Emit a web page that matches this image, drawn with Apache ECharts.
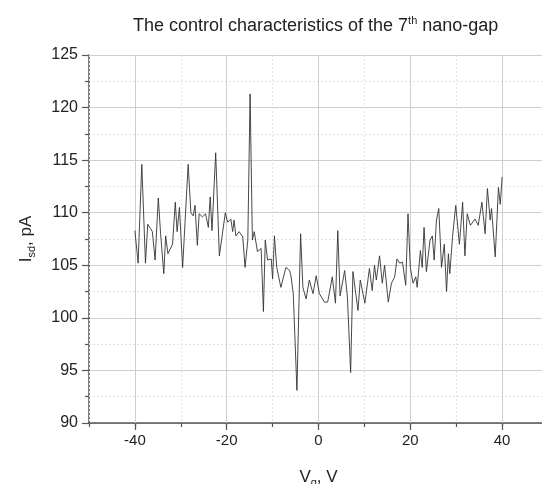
<!DOCTYPE html>
<html>
<head>
<meta charset="utf-8">
<script src="https://cdn.jsdelivr.net/npm/echarts@6/dist/echarts.min.js"></script>
<style>html,body{margin:0;padding:0;background:#fff}#c{width:542px;height:484px}</style>
</head>
<body>
<div id="c"></div>
<script>
// Gate voltage, V
const voltages = [
-40.0,-39.3,-38.5,-37.7,-37.2,-36.6,-36.2,-35.6,-34.9,-34.4,-33.7,-33.3,-32.8,-31.8,-31.2,-30.8,-30.3,-29.6,-28.4,-27.8,
-27.3,-26.9,-26.4,-26.0,-25.3,-24.6,-24.0,-23.6,-23.2,-22.4,-21.6,-20.3,-19.8,-19.1,-18.7,-18.4,-18.0,-17.3,-16.5,-16.0,
-15.4,-14.9,-14.4,-14.0,-13.3,-12.5,-12.0,-11.6,-11.1,-10.3,-10.0,-9.6,-9.1,-8.2,-7.1,-6.3,-6.0,-5.5,-4.7,-3.9,
-3.4,-2.7,-2.0,-1.2,-0.5,0.2,1.3,2.0,3.0,3.7,4.2,4.7,5.7,6.3,7.0,7.5,8.6,9.1,10.1,11.1,
11.7,12.2,12.6,13.3,13.9,14.4,15.2,15.9,16.6,17.1,17.7,18.3,19.0,19.5,20.0,20.6,21.2,21.5,22.2,22.6,
23.0,23.5,24.3,24.8,25.2,25.7,26.2,26.8,27.4,27.9,28.3,28.6,29.2,29.9,30.7,31.4,31.9,32.4,33.1,34.1,
34.8,35.6,36.3,36.8,37.4,37.7,38.5,39.2,39.6,40.0
];
// Source-drain current, pA
const currents = [
108.3,105.2,114.6,105.2,108.9,108.5,108.2,105.5,111.4,108.0,104.2,107.8,106.1,107.0,111.0,108.2,110.5,104.8,114.6,110.0,
109.7,110.7,106.9,109.9,109.6,109.9,108.6,111.5,108.3,115.7,105.9,110.0,109.1,109.4,108.2,109.3,107.8,108.2,107.7,104.8,
107.4,121.3,107.4,108.2,106.3,106.6,100.6,107.4,105.5,105.6,103.7,107.8,104.8,102.9,104.8,104.5,104.0,102.3,93.1,108.0,
102.9,101.8,103.6,102.3,104.0,102.3,101.5,101.5,103.9,101.4,108.3,102.1,104.5,102.0,94.8,104.4,100.7,103.6,101.4,104.7,
102.6,105.0,103.6,105.9,103.3,105.0,101.5,103.3,103.9,105.6,105.2,105.3,103.1,109.9,104.8,103.3,103.9,102.9,106.4,104.8,
108.6,104.4,107.4,107.8,105.5,109.3,110.4,104.8,107.0,102.5,106.1,104.2,107.7,110.7,107.0,111.0,105.9,109.9,108.8,109.4,
108.8,111.0,108.0,112.3,109.3,110.4,105.8,112.4,110.8,113.4
];
const xMajorTicks = [-40, -20, 0, 20, 40];
const yTicks = [90, 95, 100, 105, 110, 115, 120, 125];

const font = '"Liberation Sans", Arial, Helvetica, sans-serif';
const points = voltages.map((v, i) => [v, currents[i]]);

const chart = echarts.init(document.getElementById('c'), null, {renderer: 'canvas'});
chart.setOption({
  animation: false,
  backgroundColor: '#fff',
  title: {
    text: 'The control characteristics of the 7{sup|th} nano-gap',
    left: 128, top: 10,
    textStyle: {
      fontFamily: font, fontSize: 18, fontWeight: 'normal', color: '#222', lineHeight: 22,
      rich: { sup: { fontFamily: font, fontSize: 11, lineHeight: 11, verticalAlign: 'top', color: '#222' } }
    }
  },
  grid: { left: 89, top: 55, right: -6, bottom: 61, containLabel: false, outerBoundsMode: 'none' },
  xAxis: [{
    type: 'value', min: -50, max: 50,
    axisLine: { show: true, onZero: false, lineStyle: { color: '#555', width: 1.5 } },
    axisTick: { show: true, inside: false, length: 7, lineStyle: { color: '#555', width: 1.2 }, customValues: xMajorTicks },
    axisLabel: { fontFamily: font, fontSize: 15, color: '#222', margin: 10, customValues: xMajorTicks },
    splitLine: { show: false },
    name: '{n|V}{s|g}{n|, V}', nameLocation: 'middle', nameGap: 43,
    nameTextStyle: {
      fontFamily: font, color: '#222',
      rich: {
        n: { fontFamily: font, fontSize: 17, lineHeight: 22, color: '#222' },
        s: { fontFamily: font, fontSize: 11, lineHeight: 10, verticalAlign: 'bottom', color: '#222' }
      }
    },
    z: 3
  }, {
    type: 'value', min: -50, max: 50, interval: 10, position: 'bottom',
    axisLine: { show: false, onZero: false },
    axisTick: { show: true, length: 4, lineStyle: { color: '#555', width: 1.2 } },
    axisLabel: { show: false },
    splitLine: { show: true, lineStyle: { color: '#e2e2e2', width: 1, type: [2, 2] } },
    z: 1
  }],
  yAxis: {
    type: 'value', min: 90, max: 125, interval: 5,
    axisLine: { show: true, onZero: false, lineStyle: { color: '#555', width: 1.5 } },
    axisTick: { show: true, inside: false, length: 7, lineStyle: { color: '#555', width: 1.2 } },
    minorTick: { show: true, splitNumber: 2, length: 4, lineStyle: { color: '#555', width: 1.2 } },
    axisLabel: { fontFamily: font, fontSize: 16, color: '#222', margin: 11,
      formatter: v => (yTicks.indexOf(v) >= 0 ? String(v) : '') },
    splitLine: { show: true, lineStyle: { color: '#cfcfcf', width: 1 } },
    minorSplitLine: { show: true, lineStyle: { color: '#e2e2e2', width: 1, type: [2, 2] } },
    name: '{n|I}{s|sd}{n|, pA}', nameLocation: 'middle', nameGap: 52, nameRotate: 90,
    nameTextStyle: {
      fontFamily: font, color: '#222',
      rich: {
        n: { fontFamily: font, fontSize: 17, lineHeight: 22, color: '#222' },
        s: { fontFamily: font, fontSize: 11, lineHeight: 10, verticalAlign: 'bottom', color: '#222' }
      }
    }
  },
  series: [{
    type: 'line', xAxisIndex: 0, data: [], symbol: 'none', silent: true, z: 1,
    markLine: {
      silent: true, symbol: ['none', 'none'], label: { show: false }, animation: false,
      lineStyle: { color: '#cfcfcf', width: 1, type: 'solid' },
      data: xMajorTicks.map(v => ({ xAxis: v }))
    }
  }, {
    type: 'line', xAxisIndex: 0, data: points, showSymbol: false, symbol: 'none',
    lineStyle: { color: '#333', width: 0.9 }, z: 5
  }]
});
</script>
</body>
</html>
